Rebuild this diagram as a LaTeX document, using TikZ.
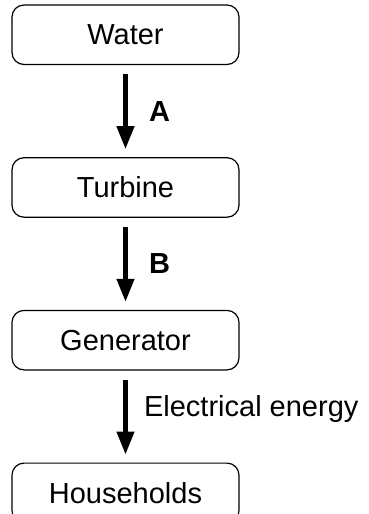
\documentclass[tikz,border=0pt]{standalone}
\usepackage{fontspec}
\setmainfont{Liberation Sans}
\usepackage{tikz}
\usetikzlibrary{arrows.meta,positioning}

\begin{document}
\begin{tikzpicture}[
  font=\fontsize{29}{33}\selectfont,
  stage/.style={draw, line width=1.2pt, rounded corners=12pt, align=center,
                minimum width=227pt, minimum height=59.5pt, inner sep=0pt},
  flow/.style={-{Triangle[length=23pt,width=17pt]}, line width=4.5pt,
               shorten <=9pt, shorten >=8pt},
  lbl/.style={right, xshift=18pt}
]
\useasboundingbox (0pt,0pt) rectangle (369pt,-514pt);
\node[stage] (water) at (125.5pt,-34.75pt) {Water};
\node[stage, below=92pt of water] (turbine) {Turbine};
\node[stage, below=92pt of turbine] (gen) {Generator};
\node[stage, below=92pt of gen] (house) {Households};

\draw[flow] (water.south) -- node[lbl] {\textbf{A}} (turbine.north);
\draw[flow] (turbine.south) -- node[lbl] {\textbf{B}} (gen.north);
\draw[flow] (gen.south) -- node[lbl, yshift=8pt, xshift=-5pt] {Electrical energy} (house.north);
\end{tikzpicture}
\end{document}
